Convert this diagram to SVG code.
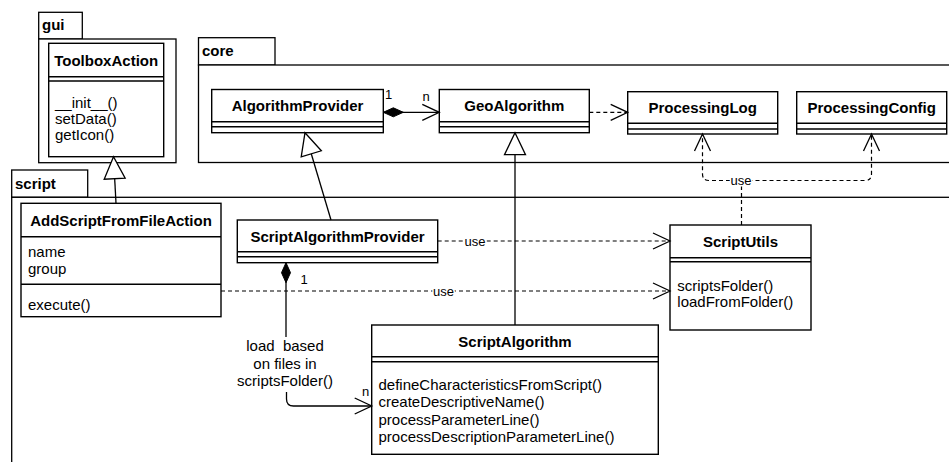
<svg xmlns="http://www.w3.org/2000/svg" width="949" height="462" viewBox="0 0 949 462">
<style>
.pkg{fill:#fff;stroke:#000;stroke-width:1.3}
.box{fill:#fff;stroke:#000;stroke-width:1.4}
.sep{stroke:#000;stroke-width:1.4}
.title{font-family:"Liberation Sans",Arial,sans-serif;font-size:15px;font-weight:bold;fill:#000;text-anchor:middle}
.ptitle{font-family:"Liberation Sans",Arial,sans-serif;font-size:15px;font-weight:bold;fill:#000}
.txt{font-family:"Liberation Sans",Arial,sans-serif;font-size:15px;fill:#000}
.lbl{font-family:"Liberation Sans",Arial,sans-serif;font-size:13px;fill:#000}
.use{font-family:"Liberation Sans",Arial,sans-serif;font-size:13px;fill:#000;text-anchor:middle;stroke:#fff;stroke-width:3;paint-order:stroke}
.solid{fill:none;stroke:#000;stroke-width:1.3}
.dash{fill:none;stroke:#000;stroke-width:1.2;stroke-dasharray:4 3}
</style>
<defs>
<marker id="tri" markerUnits="userSpaceOnUse" viewBox="-24 -12 26 24" markerWidth="26" markerHeight="24" refX="0" refY="0" orient="auto">
<path d="M0,0 L-22,-10.5 L-22,10.5 Z" fill="#fff" stroke="#000" stroke-width="1.3"/>
</marker>
<marker id="open" markerUnits="userSpaceOnUse" viewBox="-19 -10 21 20" markerWidth="21" markerHeight="20" refX="0" refY="0" orient="auto">
<path d="M-17,-8 L0,0 L-17,8" fill="none" stroke="#000" stroke-width="1.3"/>
</marker>
<marker id="dia" markerUnits="userSpaceOnUse" viewBox="-1 -6 23 12" markerWidth="23" markerHeight="12" refX="0" refY="0" orient="auto">
<path d="M0,0 L10,-4.5 L20,0 L10,4.5 Z" fill="#000" stroke="#000" stroke-width="1"/>
</marker>
</defs>

<g id="pkg-gui">
<rect class="pkg" x="38.7" y="12.3" width="43.6" height="26.7"/>
<rect class="pkg" x="38.7" y="39" width="137.3" height="123.7"/>
<text class="ptitle" x="42" y="30">gui</text>
</g>
<g id="pkg-core">
<rect class="pkg" x="198.5" y="37.7" width="76.5" height="27.3"/>
<rect class="pkg" x="198.5" y="65" width="770" height="97.5"/>
<text class="ptitle" x="202" y="56">core</text>
</g>
<g id="pkg-script">
<rect class="pkg" x="11.7" y="170" width="76" height="27.3"/>
<rect class="pkg" x="11.7" y="197.3" width="960" height="300"/>
<text class="ptitle" x="15" y="189">script</text>
</g>

<g id="ToolboxAction">
<rect class="box" x="48.7" y="43.3" width="115" height="113.4"/>
<line class="sep" x1="48.7" y1="76.7" x2="163.7" y2="76.7"/>
<line class="sep" x1="48.7" y1="81" x2="163.7" y2="81"/>
<text class="title" x="106.2" y="65.5">ToolboxAction</text>
<text class="txt" x="55" y="107.5">__init__()</text>
<text class="txt" x="55" y="123.5">setData()</text>
<text class="txt" x="55" y="139.5">getIcon()</text>
</g>

<g id="AlgorithmProvider">
<rect class="box" x="211.7" y="89.5" width="171.6" height="43.2"/>
<line class="sep" x1="211.7" y1="121.7" x2="383.3" y2="121.7"/>
<line class="sep" x1="211.7" y1="126.7" x2="383.3" y2="126.7"/>
<text class="title" x="297.5" y="111.3">AlgorithmProvider</text>
</g>

<g id="GeoAlgorithm">
<rect class="box" x="439.3" y="89.5" width="150" height="43.2"/>
<line class="sep" x1="439.3" y1="121.7" x2="589.3" y2="121.7"/>
<line class="sep" x1="439.3" y1="126.7" x2="589.3" y2="126.7"/>
<text class="title" x="514.3" y="111">GeoAlgorithm</text>
</g>

<g id="ProcessingLog">
<rect class="box" x="627.7" y="91.7" width="150" height="42.3"/>
<line class="sep" x1="627.7" y1="123.3" x2="777.7" y2="123.3"/>
<line class="sep" x1="627.7" y1="129" x2="777.7" y2="129"/>
<text class="title" x="702.7" y="113.3">ProcessingLog</text>
</g>

<g id="ProcessingConfig">
<rect class="box" x="796.7" y="91.7" width="150" height="42.3"/>
<line class="sep" x1="796.7" y1="123.3" x2="946.7" y2="123.3"/>
<line class="sep" x1="796.7" y1="129" x2="946.7" y2="129"/>
<text class="title" x="871.7" y="113.3">ProcessingConfig</text>
</g>

<g id="AddScriptFromFileAction">
<rect class="box" x="21" y="203.3" width="200" height="113.4"/>
<line class="sep" x1="21" y1="236.7" x2="221" y2="236.7"/>
<line class="sep" x1="21" y1="284.3" x2="221" y2="284.3"/>
<text class="title" x="121" y="226">AddScriptFromFileAction</text>
<text class="txt" x="28" y="257.3">name</text>
<text class="txt" x="28" y="274">group</text>
<text class="txt" x="28" y="310">execute()</text>
</g>

<g id="ScriptAlgorithmProvider">
<rect class="box" x="237.3" y="220" width="200.4" height="42.7"/>
<line class="sep" x1="237.3" y1="251.7" x2="437.7" y2="251.7"/>
<line class="sep" x1="237.3" y1="256.7" x2="437.7" y2="256.7"/>
<text class="title" x="337.5" y="241.5">ScriptAlgorithmProvider</text>
</g>

<g id="ScriptUtils">
<rect class="box" x="670" y="225" width="141" height="105"/>
<line class="sep" x1="670" y1="257.7" x2="811" y2="257.7"/>
<line class="sep" x1="670" y1="261.7" x2="811" y2="261.7"/>
<text class="title" x="740.5" y="247">ScriptUtils</text>
<text class="txt" x="677.3" y="291">scriptsFolder()</text>
<text class="txt" x="677.3" y="307">loadFromFolder()</text>
</g>

<g id="ScriptAlgorithm">
<rect class="box" x="371.7" y="325" width="286.6" height="129.3"/>
<line class="sep" x1="371.7" y1="356.7" x2="658.3" y2="356.7"/>
<line class="sep" x1="371.7" y1="361.7" x2="658.3" y2="361.7"/>
<text class="title" x="515" y="346.5">ScriptAlgorithm</text>
<text class="txt" x="378.5" y="389.5">defineCharacteristicsFromScript()</text>
<text class="txt" x="378.5" y="407">createDescriptiveName()</text>
<text class="txt" x="378.5" y="424.5">processParameterLine()</text>
<text class="txt" x="378.5" y="442">processDescriptionParameterLine()</text>
</g>

<g id="connectors">
<path class="solid" d="M116,203.3 L113.5,156.7" marker-end="url(#tri)"/>
<path class="solid" d="M331,220 L305,132.7" marker-end="url(#tri)"/>
<path class="solid" d="M515,325 L515,132.7" marker-end="url(#tri)"/>
<path class="solid" d="M383.3,112.3 L439.3,112.3" marker-start="url(#dia)" marker-end="url(#open)"/>
<text class="lbl" x="385" y="98.5">1</text>
<text class="lbl" x="422.5" y="100.7">n</text>
<path class="dash" d="M589.3,112.3 L627.7,112.3" marker-end="url(#open)"/>
<path class="dash" d="M741.5,225 L741.5,180.5 L709,180.5 Q702.5,180.5 702.5,174 L702.5,134" marker-end="url(#open)"/>
<path class="dash" d="M741.5,180.5 L865,180.5 Q871.5,180.5 871.5,174 L871.5,134" marker-end="url(#open)"/>
<text class="use" x="741" y="185">use</text>
<path class="dash" d="M437.7,241 L670,241" marker-end="url(#open)"/>
<text class="use" x="475" y="245.5">use</text>
<path class="dash" d="M221,291 L670,291" marker-end="url(#open)"/>
<text class="use" x="443.5" y="295.5">use</text>
<path class="solid" d="M286,262.7 L286,337" marker-start="url(#dia)"/>
<text class="lbl" x="300.5" y="283.5">1</text>
<path class="solid" d="M286.5,392 L286.5,399 Q286.5,406 293.5,406 L371.7,406" marker-end="url(#open)"/>
<text class="lbl" x="362" y="395.5">n</text>
<text class="txt" x="285" y="351" text-anchor="middle" xml:space="preserve">load  based</text>
<text class="txt" x="285" y="368.5" text-anchor="middle">on files in</text>
<text class="txt" x="285" y="386" text-anchor="middle">scriptsFolder()</text>
</g>
</svg>
